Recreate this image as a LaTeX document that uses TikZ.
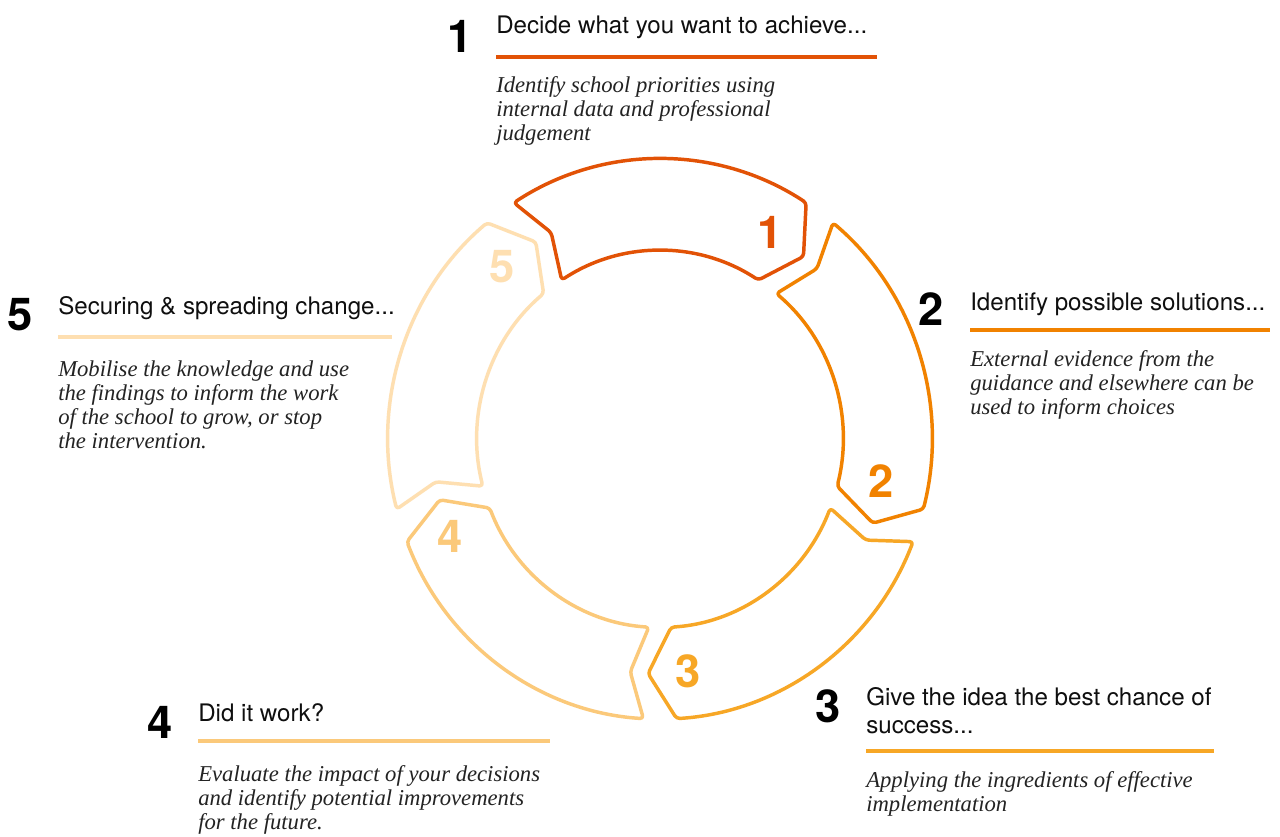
\documentclass[tikz,border=0pt]{standalone}
\usepackage{fontspec}
\newfontfamily\headfont{TeX Gyre Heros}
\newfontfamily\bodyfont{Liberation Serif}
\definecolor{cA}{RGB}{226,82,6}
\definecolor{cB}{RGB}{241,130,0}
\definecolor{cC}{RGB}{247,167,38}
\definecolor{cD}{RGB}{251,201,122}
\definecolor{cE}{RGB}{254,223,177}
\definecolor{headc}{RGB}{15,15,15}
\definecolor{bodyc}{RGB}{35,35,35}
\tikzset{
  bignum/.style={font=\headfont\bfseries\fontsize{34}{34}\selectfont, text=black, inner sep=0pt, anchor=center},
  ringnum/.style={font=\headfont\bfseries\fontsize{34}{34}\selectfont, inner sep=0pt, anchor=center},
  headtxt/.style={font=\headfont\fontsize{18.1}{21.5}\selectfont, text=headc, inner sep=0pt, anchor=base west},
  bodytxt/.style={font=\bodyfont\itshape\fontsize{17}{18}\selectfont, text=bodyc, inner sep=0pt, anchor=base west},
  uline/.style={line width=3pt},
  segment/.style={line width=2.6pt, line join=round, rounded corners=2.5pt}
}
\newcommand{\lines}[1]{\begin{tabular}[t]{@{}l@{}}#1\end{tabular}}
\begin{document}
\begin{tikzpicture}[x=0.75pt,y=-0.75pt]
\useasboundingbox (0,0) rectangle (1280,837);
\fill[white] (0,0) rectangle (1280,837);

% ring of five arrow segments
\begin{scope}[shift={(660,439)}, x=0.75pt, y=0.7725pt]
\foreach \k/\col in {1/cA,2/cB,3/cC,4/cD,5/cE}{
  \pgfmathsetmacro\cc{90-72*(\k-1)}
  \pgfmathsetmacro\ss{\cc+32.5}
  \pgfmathsetmacro\ee{\cc-32.5}
  \pgfmathsetmacro\tip{\ee-6.5}
  \pgfmathsetmacro\notch{\ss-4}
  \draw[segment, \col] (\ss:272) arc[start angle=\ss, end angle=\ee, radius=272]
     -- (\tip:228) -- (\ee:183) arc[start angle=\ee, end angle=\ss, radius=183]
     -- (\notch:228) -- cycle;
}
\end{scope}

% numbers inside the ring
\node[ringnum, text=cA] (r1) at (770,232) {1};
\node[ringnum, text=cB] (r2) at (881,481) {2};
\node[ringnum, text=cC] (r3) at (688,671) {3};
\node[ringnum, text=cD] (r4) at (450,536) {4};
\node[ringnum, text=cE] (r5) at (502,267) {5};

% block 1
\node[bignum] (n1) at (460,36) {1};
\node[headtxt] (h1) at (496,34) {Decide what you want to achieve...};
\coordinate (u1a) at (496,57); \coordinate (u1b) at (877,57);
\draw[uline, cA] (u1a) -- (u1b);
\node[bodytxt] (b1) at (496,93) {\lines{Identify school priorities using\\internal data and professional\\judgement}};

% block 2
\node[bignum] (n2) at (931.5,309) {2};
\node[headtxt] (h2) at (970,311) {Identify possible solutions...};
\coordinate (u2a) at (970,330); \coordinate (u2b) at (1270,330);
\draw[uline, cB] (u2a) -- (u2b);
\node[bodytxt] (b2) at (970,367) {\lines{External evidence from the\\guidance and elsewhere can be\\used to inform choices}};

% block 3
\node[bignum] (n3) at (828.5,706.5) {3};
\node[headtxt] (h3) at (866,705) {\lines{Give the idea the best chance of\\success...}};
\coordinate (u3a) at (866,751); \coordinate (u3b) at (1214,751);
\draw[uline, cC] (u3a) -- (u3b);
\node[bodytxt] (b3) at (866,787) {\lines{Applying the ingredients of effective\\implementation}};

% block 4
\node[bignum] (n4) at (160,722.5) {4};
\node[headtxt] (h4) at (198,721) {Did it work?};
\coordinate (u4a) at (198,741); \coordinate (u4b) at (550,741);
\draw[uline, cD] (u4a) -- (u4b);
\node[bodytxt] (b4) at (198,781) {\lines{Evaluate the impact of your decisions\\and identify potential improvements\\for the future.}};

% block 5
\node[bignum] (n5) at (20.5,315) {5};
\node[headtxt] (h5) at (58,315) {Securing \& spreading change...};
\coordinate (u5a) at (58,337); \coordinate (u5b) at (392,337);
\draw[uline, cE] (u5a) -- (u5b);
\node[bodytxt] (b5) at (58,377) {\lines{Mobilise the knowledge and use\\the findings to inform the work\\of the school to grow, or stop\\the intervention.}};
\end{tikzpicture}
\end{document}
